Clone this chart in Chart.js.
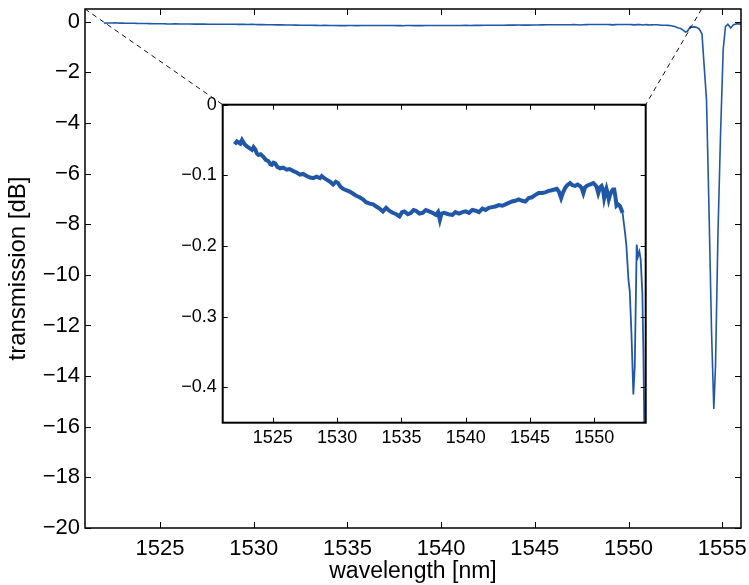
<!DOCTYPE html>
<html>
<head>
<meta charset="utf-8">
<title>Transmission spectrum</title>
<script src="https://cdn.jsdelivr.net/npm/chart.js@4.4.1/dist/chart.umd.min.js"></script>
<style>
  html, body { margin: 0; padding: 0; background: #fff; }
  #wrap { position: relative; width: 749px; height: 585px; }
  canvas { position: absolute; }
</style>
</head>
<body>
<div id="wrap">
  <canvas id="main" width="749" height="585" style="left:0;top:0"></canvas>
  <canvas id="inset" width="490" height="365" style="left:170px;top:95px"></canvas>
</div>
<script>
// Measured transmission spectrum: wavelength [nm] and transmission [dB]
const wavelength = [
  1522.02, 1522.20, 1522.47, 1522.60, 1522.73, 1522.86, 1522.99, 1523.15, 1523.38, 1523.50,
  1523.63, 1523.76, 1523.89, 1524.05, 1524.28, 1524.45, 1524.66, 1524.80, 1524.92, 1525.05,
  1525.18, 1525.35, 1525.57, 1525.80, 1526.08, 1526.30, 1526.60, 1526.85, 1527.11, 1527.35,
  1527.63, 1527.90, 1528.14, 1528.40, 1528.66, 1528.80, 1529.00, 1529.18, 1529.45, 1529.69,
  1529.90, 1530.08, 1530.25, 1530.46, 1530.70, 1530.98, 1531.25, 1531.49, 1531.75, 1532.01,
  1532.25, 1532.53, 1532.80, 1533.04, 1533.30, 1533.56, 1533.81, 1534.05, 1534.33, 1534.60,
  1534.85, 1535.05, 1535.23, 1535.50, 1535.75, 1535.95, 1536.13, 1536.40, 1536.65, 1536.90,
  1537.16, 1537.42, 1537.68, 1537.85, 1537.99, 1538.12, 1538.32, 1538.65, 1538.97, 1539.20,
  1539.48, 1539.75, 1540.00, 1540.25, 1540.52, 1540.78, 1541.03, 1541.30, 1541.55, 1541.80,
  1542.06, 1542.30, 1542.58, 1542.85, 1543.09, 1543.35, 1543.61, 1543.85, 1544.12, 1544.40,
  1544.64, 1544.90, 1545.15, 1545.40, 1545.67, 1545.95, 1546.19, 1546.45, 1546.70, 1546.90,
  1547.09, 1547.25, 1547.42, 1547.55, 1547.73, 1547.90, 1548.12, 1548.30, 1548.51, 1548.70,
  1548.89, 1549.02, 1549.15, 1549.28, 1549.41, 1549.65, 1549.93, 1550.05, 1550.18, 1550.31,
  1550.45, 1550.57, 1550.68, 1550.77, 1550.86, 1550.95, 1551.05, 1551.13, 1551.24, 1551.34,
  1551.45, 1551.55, 1551.65, 1551.73, 1551.85, 1551.98, 1552.10, 1552.20, 1552.40, 1552.50,
  1552.66, 1552.76, 1552.89, 1553.04, 1553.15, 1553.30, 1553.40, 1553.51, 1553.61, 1553.74,
  1553.82, 1553.92, 1554.02, 1554.16, 1554.28, 1554.43, 1554.55, 1554.64, 1554.77, 1554.91,
  1555.05, 1555.17, 1555.30, 1555.45, 1555.60, 1555.80, 1556.00
];
const transmission = [
  -0.056, -0.052, -0.055, -0.050, -0.054, -0.057, -0.059, -0.061, -0.064, -0.060,
  -0.063, -0.069, -0.071, -0.070, -0.074, -0.078, -0.080, -0.084, -0.085, -0.082,
  -0.083, -0.088, -0.090, -0.089, -0.092, -0.091, -0.094, -0.096, -0.099, -0.098,
  -0.101, -0.103, -0.104, -0.102, -0.104, -0.101, -0.104, -0.106, -0.109, -0.113,
  -0.109, -0.111, -0.116, -0.119, -0.121, -0.123, -0.126, -0.129, -0.131, -0.134,
  -0.138, -0.140, -0.141, -0.144, -0.147, -0.151, -0.146, -0.150, -0.153, -0.155,
  -0.158, -0.152, -0.151, -0.155, -0.153, -0.149, -0.150, -0.154, -0.153, -0.149,
  -0.151, -0.153, -0.156, -0.152, -0.163, -0.154, -0.153, -0.155, -0.156, -0.152,
  -0.154, -0.152, -0.151, -0.153, -0.149, -0.150, -0.152, -0.147, -0.149, -0.146,
  -0.145, -0.144, -0.142, -0.143, -0.141, -0.139, -0.137, -0.136, -0.134, -0.136,
  -0.137, -0.132, -0.131, -0.128, -0.125, -0.125, -0.124, -0.122, -0.121, -0.120,
  -0.119, -0.123, -0.132, -0.125, -0.118, -0.114, -0.111, -0.114, -0.115, -0.113,
  -0.115, -0.118, -0.125, -0.117, -0.115, -0.113, -0.111, -0.113, -0.116, -0.125,
  -0.117, -0.115, -0.120, -0.132, -0.125, -0.119, -0.126, -0.134, -0.127, -0.123,
  -0.120, -0.120, -0.131, -0.143, -0.141, -0.143, -0.148, -0.153, -0.182, -0.200,
  -0.248, -0.264, -0.323, -0.410, -0.370, -0.198, -0.215, -0.208, -0.219, -0.267,
  -0.350, -0.500, -1.600, -3.100, -7.000, -12.300, -15.300, -13.600, -8.400, -4.400,
  -1.100, -0.200, -0.100, -0.250, -0.120, -0.080, -0.100
];

// Axis ticks
const mainXTicks = [1525, 1530, 1535, 1540, 1545, 1550, 1555];
const mainYTicks = [0, -2, -4, -6, -8, -10, -12, -14, -16, -18, -20];
const insetXTicks = [1525, 1530, 1535, 1540, 1545, 1550];
const insetYTicks = [0, -0.1, -0.2, -0.3, -0.4];

// Region of the main plot that the inset magnifies (connector anchors)
const zoomFrom = [1521.0, 1553.9];
const zoomTop = 0.5;

const LINE_COLOR = '#2057a8';
const FONT = '"Liberation Sans", Arial, Helvetica, sans-serif';
Chart.defaults.color = '#000';
Chart.defaults.font.family = FONT;

const points = wavelength.map((w, i) => ({ x: w, y: transmission[i] }));

const minusLabel = (digits) => (v) => {
  if (Math.abs(v) < 1e-9) return '0';
  const s = Math.abs(v).toFixed(digits);
  return v < 0 ? '\u2212' + s : s;
};

// Boxed frame with inward tick marks on all four sides
const framePlugin = {
  id: 'frame',
  afterDraw(chart, args, opts) {
    const { ctx, chartArea: a, scales: { x, y } } = chart;
    ctx.save();
    ctx.strokeStyle = '#000';
    ctx.lineWidth = opts.tickWidth;
    ctx.beginPath();
    x.ticks.forEach(t => {
      const px = Math.round(x.getPixelForValue(t.value)) + 0.5;
      ctx.moveTo(px, a.bottom); ctx.lineTo(px, a.bottom - opts.len);
      ctx.moveTo(px, a.top); ctx.lineTo(px, a.top + opts.len);
    });
    y.ticks.forEach(t => {
      const py = Math.round(y.getPixelForValue(t.value)) + 0.5;
      ctx.moveTo(a.left, py); ctx.lineTo(a.left + opts.len, py);
      ctx.moveTo(a.right, py); ctx.lineTo(a.right - opts.len, py);
    });
    ctx.stroke();
    ctx.lineWidth = opts.frameWidth;
    ctx.strokeRect(a.left, a.top, a.right - a.left, a.bottom - a.top);
    ctx.restore();
  }
};

const fixedTicks = (list) => (scale) => { scale.ticks = list.map(v => ({ value: v })); };
// Fixed axis box sizes; edge labels may overhang the plot area
const fitX = (h) => (s) => { s.height = h; s.paddingLeft = 0; s.paddingRight = 0; };
const fitY = (w) => (s) => { s.width = w; s.paddingTop = 0; s.paddingBottom = 0; };

// Inset: magnified view of the flat part of the spectrum
const insetChart = new Chart(document.getElementById('inset'), {
  type: 'line',
  data: {
    datasets: [{
      data: points,
      borderColor: LINE_COLOR,
      borderWidth: 2,
      pointRadius: 0,
      tension: 0,
      segment: {
        borderWidth: ctx => (ctx.p0.parsed.x < 1552.2 ? 4 : 1.8)
      }
    }]
  },
  options: {
    responsive: false,
    animation: false,
    devicePixelRatio: 1,
    layout: { padding: { left: 0, top: 9.7, right: 14.3, bottom: 0 } },
    plugins: {
      legend: { display: false },
      tooltip: { enabled: false },
      frame: { len: 5, tickWidth: 1, frameWidth: 2 }
    },
    scales: {
      x: {
        type: 'linear',
        min: 1521.1,
        max: 1554.0,
        afterBuildTicks: fixedTicks(insetXTicks),
        afterFit: fitX(37.3),
        grid: { display: false, drawTicks: false },
        border: { display: false },
        ticks: { autoSkip: false, maxRotation: 0, padding: 5, font: { size: 18 },
                 callback: v => String(v) }
      },
      y: {
        type: 'linear',
        min: -0.45,
        max: 0,
        afterBuildTicks: fixedTicks(insetYTicks),
        afterFit: fitY(52.7),
        grid: { display: false, drawTicks: false },
        border: { display: false },
        ticks: { autoSkip: false, padding: 6, font: { size: 18 }, callback: minusLabel(1) }
      }
    }
  },
  plugins: [framePlugin]
});

// Dashed connectors from the magnified span to the inset corners
const connectorPlugin = {
  id: 'connector',
  afterDraw(chart) {
    const { ctx, scales: { x, y } } = chart;
    const ia = insetChart.chartArea;
    const ox = insetChart.canvas.offsetLeft, oy = insetChart.canvas.offsetTop;
    const yTop = y.getPixelForValue(zoomTop);
    ctx.save();
    ctx.strokeStyle = '#111';
    ctx.lineWidth = 1;
    ctx.setLineDash([5, 4]);
    ctx.beginPath();
    ctx.moveTo(x.getPixelForValue(zoomFrom[0]), yTop);
    ctx.lineTo(ox + ia.left, oy + ia.top);
    ctx.moveTo(x.getPixelForValue(zoomFrom[1]), yTop);
    ctx.lineTo(ox + ia.right, oy + ia.top);
    ctx.stroke();
    ctx.restore();
  }
};

// Main plot: full spectrum
new Chart(document.getElementById('main'), {
  type: 'line',
  data: {
    datasets: [{
      data: points,
      borderColor: LINE_COLOR,
      borderWidth: 1.6,
      pointRadius: 0,
      tension: 0
    }]
  },
  options: {
    responsive: false,
    animation: false,
    devicePixelRatio: 1,
    layout: { padding: { left: 0, top: 9, right: 8, bottom: 0 } },
    plugins: {
      legend: { display: false },
      tooltip: { enabled: false },
      frame: { len: 6, tickWidth: 1, frameWidth: 1.5 }
    },
    scales: {
      x: {
        type: 'linear',
        min: 1521,
        max: 1556,
        afterBuildTicks: fixedTicks(mainXTicks),
        afterFit: fitX(57),
        grid: { display: false, drawTicks: false },
        border: { display: false },
        ticks: { autoSkip: false, maxRotation: 0, padding: 8, font: { size: 22 },
                 callback: v => String(v) },
        title: { display: true, text: 'wavelength [nm]', font: { size: 23 },
                 padding: { top: 0, bottom: 0 } }
      },
      y: {
        type: 'linear',
        min: -20,
        max: 0.5,
        afterBuildTicks: fixedTicks(mainYTicks),
        afterFit: fitY(85),
        grid: { display: false, drawTicks: false },
        border: { display: false },
        ticks: { autoSkip: false, padding: 5, font: { size: 22 }, callback: minusLabel(0) },
        title: { display: true, text: 'transmission [dB]', font: { size: 24 },
                 padding: { top: 4, bottom: 0 } }
      }
    }
  },
  plugins: [framePlugin, connectorPlugin]
});
</script>
</body>
</html>
